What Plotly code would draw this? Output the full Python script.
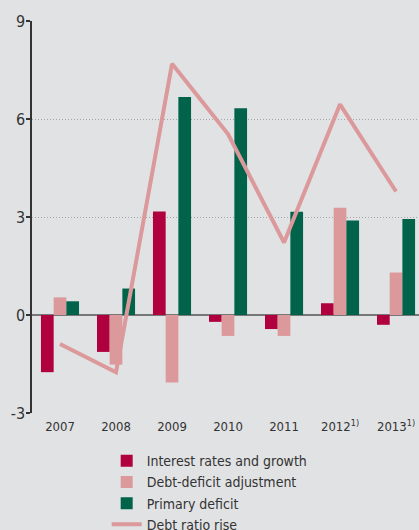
import plotly.graph_objects as go

# Contributions to the change in the debt ratio (percentage points)
years = ["2007", "2008", "2009", "2010", "2011", "2012<sup>1)</sup>", "2013<sup>1)</sup>"]
interest_growth = [-1.75, -1.13, 3.17, -0.21, -0.43, 0.36, -0.30]
debt_deficit_adj = [0.54, -1.52, -2.07, -0.64, -0.64, 3.28, 1.30]
primary_deficit = [0.42, 0.81, 6.67, 6.33, 3.16, 2.89, 2.94]
debt_ratio_rise = [-0.89, -1.75, 7.69, 5.54, 2.22, 6.45, 3.78]
y_ticks = [-3, 0, 3, 6, 9]
y_tick_text = ["-3", "0", "3", "6", "9"]

RED = "#b0003e"
PINK = "#dc999b"
GREEN = "#00634a"
BG = "#e1e2e4"
FONT = "DejaVu Sans Condensed, Liberation Sans Narrow, Roboto, sans-serif"

x = list(range(len(years)))

fig = go.Figure()
fig.add_trace(go.Bar(x=x, y=interest_growth, name="Interest rates and growth",
                     marker=dict(color=RED, line=dict(width=0))))
fig.add_trace(go.Bar(x=x, y=debt_deficit_adj, name="Debt-deficit adjustment",
                     marker=dict(color=PINK, line=dict(width=0))))
fig.add_trace(go.Bar(x=x, y=primary_deficit, name="Primary deficit",
                     marker=dict(color=GREEN, line=dict(width=0))))
fig.add_trace(go.Scatter(x=x, y=debt_ratio_rise, name="Debt ratio rise", mode="lines",
                         line=dict(color=PINK, width=4)))

fig.update_layout(
    width=419, height=530,
    margin=dict(l=32, r=0, t=21, b=117, autoexpand=False),
    paper_bgcolor=BG, plot_bgcolor=BG,
    barmode="group", bargap=0.32, bargroupgap=0,
    font=dict(family=FONT, color="#333333"),
    showlegend=True,
    legend=dict(x=0.193, y=-0.082, xanchor="left", yanchor="top",
                bgcolor="rgba(0,0,0,0)", font=dict(size=14, color="#333333"),
                traceorder="normal"),
    xaxis=dict(range=[-0.5, 6.41], tickmode="array", tickvals=x, ticktext=years,
               showgrid=False, zeroline=False, showline=False, ticks="",
               ticklabelstandoff=4,
               tickfont=dict(size=13, color="#333333")),
    xaxis2=dict(overlaying="x", anchor="free", position=0.25, range=[-0.5, 6.41],
                tickmode="array", tickvals=[i + 0.5 for i in x[:-1]],
                ticks="outside", ticklen=4, tickwidth=1.5, tickcolor="#444444",
                showticklabels=False, showgrid=False, zeroline=False, showline=False),
    yaxis=dict(range=[-3, 9], tickmode="array", tickvals=y_ticks, ticktext=y_tick_text,
               showline=True, linecolor="#333333", linewidth=1.5,
               ticks="outside", ticklen=4, tickwidth=1.5, tickcolor="#333333",
               ticklabelstandoff=-2,
               showgrid=True, gridcolor="#a5a5a5", griddash="1px,2px", gridwidth=1,
               zeroline=True, zerolinecolor="#777777", zerolinewidth=1.5,
               tickfont=dict(size=16, color="#333333")),
)

fig.write_html("out.html")
